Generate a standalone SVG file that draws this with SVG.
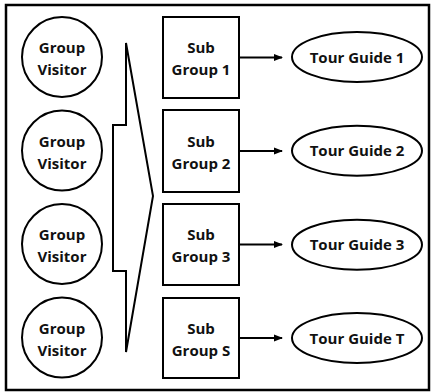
<svg xmlns="http://www.w3.org/2000/svg" width="432" height="392" viewBox="0 0 432 392">
<defs>
<marker id="ah" markerWidth="9" markerHeight="8" refX="8" refY="4" orient="auto" markerUnits="userSpaceOnUse">
<path d="M0,0.5 L9,4 L0,7.5 Z" fill="#000"/>
</marker>
<style>
.s{fill:#fff;stroke:#000;stroke-width:2}
.t{font-family:"Open Sans","Liberation Sans",sans-serif;font-weight:bold;font-size:15px;fill:#111;text-anchor:middle}
.c{stroke:#000;stroke-width:2;fill:none}
</style>
</defs>
<rect x="0" y="0" width="432" height="392" fill="#fff"/>
<rect x="6" y="5" width="423" height="385" fill="none" stroke="#000" stroke-width="2.5"/>
<g id="visitor1"><circle class="s" cx="62" cy="57" r="40"/><text class="t" x="62" y="53">Group</text><text class="t" x="62" y="75">Visitor</text></g>
<g id="visitor2"><circle class="s" cx="62" cy="150.5" r="40"/><text class="t" x="62" y="146.5">Group</text><text class="t" x="62" y="168.5">Visitor</text></g>
<g id="visitor3"><circle class="s" cx="62" cy="244" r="40"/><text class="t" x="62" y="240">Group</text><text class="t" x="62" y="262">Visitor</text></g>
<g id="visitor4"><circle class="s" cx="62" cy="337.5" r="40"/><text class="t" x="62" y="333.5">Group</text><text class="t" x="62" y="355.5">Visitor</text></g>
<g id="split"><polygon class="s" points="126,43 153,196 126,352 126,271 113,271 113,125 126,125"/></g>
<g id="sub1"><rect class="s" x="163" y="17" width="76" height="81"/><text class="t" x="201" y="53">Sub</text><text class="t" x="201" y="75">Group 1</text></g>
<g id="sub2"><rect class="s" x="163" y="110" width="76" height="82"/><text class="t" x="201" y="146.5">Sub</text><text class="t" x="201" y="168.5">Group 2</text></g>
<g id="sub3"><rect class="s" x="163" y="204" width="76" height="81"/><text class="t" x="201" y="240">Sub</text><text class="t" x="201" y="262">Group 3</text></g>
<g id="sub4"><rect class="s" x="163" y="298" width="76" height="80"/><text class="t" x="201" y="333.5">Sub</text><text class="t" x="201" y="355.5">Group S</text></g>
<g id="guide1"><ellipse class="s" cx="357" cy="57" rx="65" ry="25"/><text class="t" x="357" y="62.5">Tour Guide 1</text></g>
<g id="guide2"><ellipse class="s" cx="357" cy="150.7" rx="65" ry="25"/><text class="t" x="357" y="156">Tour Guide 2</text></g>
<g id="guide3"><ellipse class="s" cx="357" cy="244.7" rx="65" ry="25"/><text class="t" x="357" y="250">Tour Guide 3</text></g>
<g id="guide4"><ellipse class="s" cx="357" cy="338" rx="65" ry="25"/><text class="t" x="357" y="343.5">Tour Guide T</text></g>
<g id="connectors">
<line class="c" x1="239" y1="57.5" x2="282" y2="57.5" marker-end="url(#ah)"/>
<line class="c" x1="239" y1="151" x2="282" y2="151" marker-end="url(#ah)"/>
<line class="c" x1="239" y1="244.5" x2="282" y2="244.5" marker-end="url(#ah)"/>
<line class="c" x1="239" y1="338" x2="282" y2="338" marker-end="url(#ah)"/>
</g>
</svg>
